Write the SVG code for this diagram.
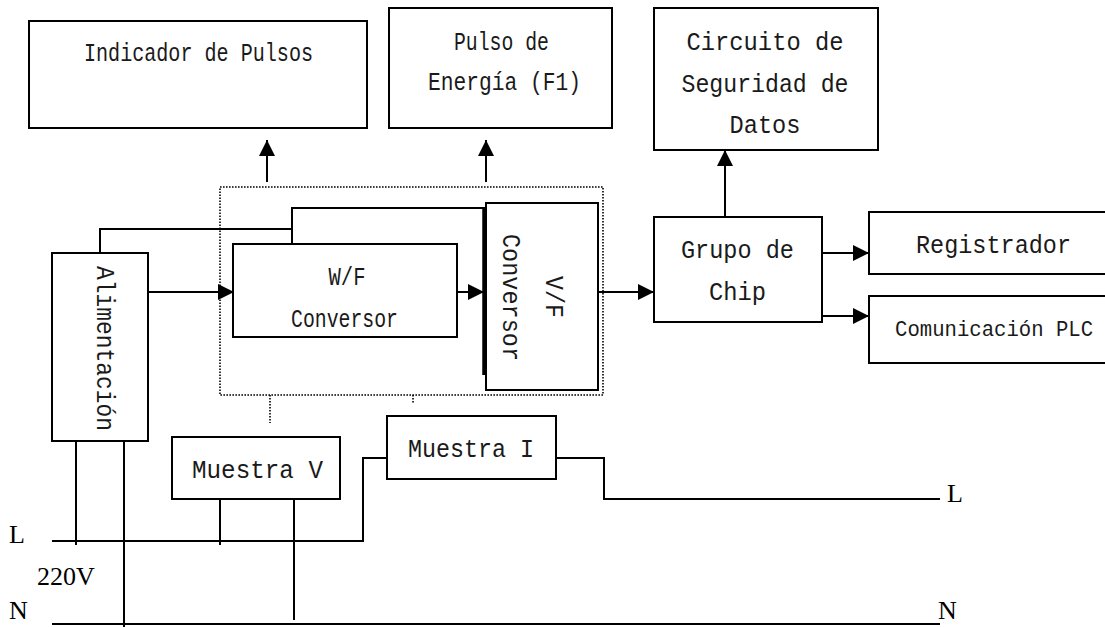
<svg xmlns="http://www.w3.org/2000/svg" width="1105" height="627" viewBox="0 0 1105 627">
<style>
.box{fill:#fff;stroke:#000;stroke-width:2}
.ln{fill:none;stroke:#000;stroke-width:2}
.dot{fill:none;stroke:#000;stroke-width:1.6;stroke-dasharray:1.6 1.4}
.t{font-family:"Liberation Mono","DejaVu Sans Mono",monospace;font-size:25px;fill:#1a1a1a;text-anchor:middle}
.ts{font-family:"Liberation Mono","DejaVu Sans Mono",monospace;font-size:22px;fill:#1a1a1a;text-anchor:middle}
.s{font-family:"Liberation Serif","Times New Roman",serif;font-size:26px;fill:#000}
</style>
<defs>
<marker id="ah" viewBox="0 0 16 16" refX="16" refY="8" markerWidth="16" markerHeight="16" markerUnits="userSpaceOnUse" orient="auto">
<path d="M0,0 L16,8 L0,16 z" fill="#000"/>
</marker>
</defs>
<rect width="1105" height="627" fill="#fff"/>

<g id="connectors">
<rect class="dot" x="220" y="187" width="383" height="208"/>
<line class="dot" x1="270" y1="395" x2="270" y2="423"/>
<line class="dot" x1="413" y1="395" x2="413" y2="404"/>
<polyline class="ln" points="100,253 100,229 292,229 292,244"/>
<polyline class="ln" points="292,229 292,208 484,208"/>
<line x1="484" y1="207" x2="484" y2="375" stroke="#000" stroke-width="3.5"/>
<line class="ln" x1="76" y1="441" x2="76" y2="545"/>
<line class="ln" x1="124" y1="441" x2="124" y2="627"/>
<polyline class="ln" points="52,541 363,541 363,458 387,458"/>
<polyline class="ln" points="556,458 604,458 604,499 940,499"/>
<line class="ln" x1="52" y1="624" x2="940" y2="624"/>
<line class="ln" x1="220" y1="499" x2="220" y2="545"/>
<line class="ln" x1="294" y1="499" x2="294" y2="620"/>
<line class="ln" x1="267" y1="182" x2="267" y2="140" marker-end="url(#ah)"/>
<line class="ln" x1="486" y1="182" x2="486" y2="140" marker-end="url(#ah)"/>
<line class="ln" x1="725" y1="217" x2="725" y2="150" marker-end="url(#ah)"/>
<line class="ln" x1="148" y1="292" x2="234" y2="292" marker-end="url(#ah)"/>
<line class="ln" x1="457" y1="292" x2="484" y2="292" marker-end="url(#ah)"/>
<line class="ln" x1="598" y1="292" x2="654" y2="292" marker-end="url(#ah)"/>
<line class="ln" x1="822" y1="253" x2="869" y2="253" marker-end="url(#ah)"/>
<line class="ln" x1="822" y1="316" x2="869" y2="316" marker-end="url(#ah)"/>
</g>

<g id="indicador">
<rect class="box" x="29" y="21" width="338" height="107"/>
<text class="t" x="198.5" y="61" textLength="229" lengthAdjust="spacingAndGlyphs">Indicador de Pulsos</text>
</g>
<g id="pulso">
<rect class="box" x="389" y="8" width="223" height="120"/>
<text class="t" x="501.5" y="50" textLength="95" lengthAdjust="spacingAndGlyphs">Pulso de</text>
<text class="t" x="504.5" y="90" textLength="153" lengthAdjust="spacingAndGlyphs">Energía (F1)</text>
</g>
<g id="circuito">
<rect class="box" x="654" y="8" width="224" height="142"/>
<text class="t" x="765" y="50" textLength="157" lengthAdjust="spacingAndGlyphs">Circuito de</text>
<text class="t" x="765" y="92" textLength="167" lengthAdjust="spacingAndGlyphs">Seguridad de</text>
<text class="t" x="765" y="133" textLength="71" lengthAdjust="spacingAndGlyphs">Datos</text>
</g>
<g id="alimentacion">
<rect class="box" x="52" y="253" width="96" height="188"/>
<text class="t" transform="translate(97,348.5) rotate(90)" x="0" y="0" textLength="165" lengthAdjust="spacingAndGlyphs">Alimentación</text>
</g>
<g id="wf">
<rect class="box" x="233" y="244" width="224" height="93"/>
<text class="t" x="347" y="285" textLength="37" lengthAdjust="spacingAndGlyphs">W/F</text>
<text class="t" x="344.5" y="327" textLength="107" lengthAdjust="spacingAndGlyphs">Conversor</text>
</g>
<g id="vf">
<rect class="box" x="486" y="203" width="112" height="187"/>
<text class="t" transform="translate(546,297) rotate(90)" x="0" y="0" textLength="42" lengthAdjust="spacingAndGlyphs">V/F</text>
<text class="t" transform="translate(503,297.5) rotate(90)" x="0" y="0" textLength="127" lengthAdjust="spacingAndGlyphs">Conversor</text>
</g>
<g id="grupo">
<rect class="box" x="654" y="217" width="168" height="105"/>
<text class="t" x="737.5" y="258" textLength="113" lengthAdjust="spacingAndGlyphs">Grupo de</text>
<text class="t" x="737.5" y="300" textLength="57" lengthAdjust="spacingAndGlyphs">Chip</text>
</g>
<g id="registrador">
<rect class="box" x="869" y="212" width="245" height="62"/>
<text class="t" x="993.5" y="253" textLength="155" lengthAdjust="spacingAndGlyphs">Registrador</text>
</g>
<g id="comunicacion">
<rect class="box" x="869" y="296" width="245" height="67"/>
<text class="ts" x="994" y="336" textLength="198" lengthAdjust="spacingAndGlyphs">Comunicación PLC</text>
</g>
<g id="muestraV">
<rect class="box" x="172" y="437" width="168" height="62"/>
<text class="t" x="257.5" y="478" textLength="131" lengthAdjust="spacingAndGlyphs">Muestra V</text>
</g>
<g id="muestraI">
<rect class="box" x="387" y="416" width="169" height="63"/>
<text class="t" x="471" y="457" textLength="126" lengthAdjust="spacingAndGlyphs">Muestra I</text>
</g>
<g id="labels">
<text class="s" x="9" y="543">L</text>
<text class="s" x="37" y="585">220V</text>
<text class="s" x="9" y="619" font-size="25">N</text>
<text class="s" x="938" y="619" font-size="25">N</text>
<text class="s" x="947" y="502">L</text>
</g>
</svg>
